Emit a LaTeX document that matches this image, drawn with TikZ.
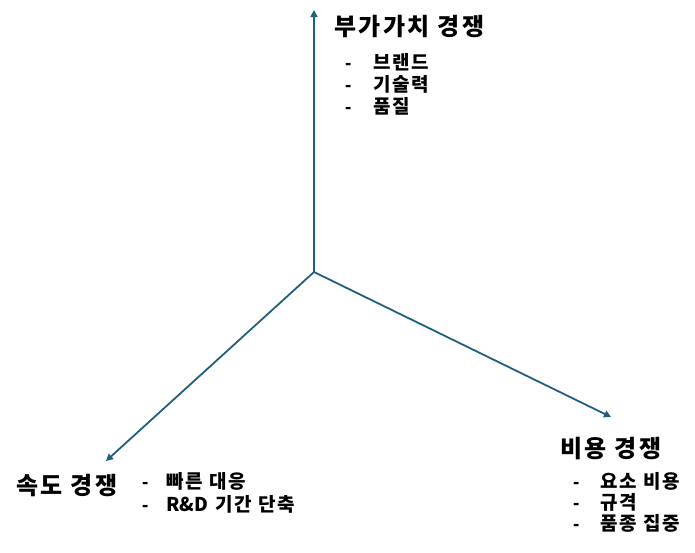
\documentclass[tikz,border=0pt]{standalone}
\usepackage{fontspec}
\setmainfont{Noto Sans CJK KR}
\newfontfamily\ttlfont[LetterSpace=10]{Noto Sans CJK KR}
\newfontfamily\itmfont[LetterSpace=10]{Noto Sans CJK KR}
\newfontfamily\dashfont{Liberation Sans}
\usetikzlibrary{arrows.meta}
\definecolor{axis}{RGB}{31,95,128}
\tikzset{
  ax/.style={draw=axis, line width=1.8pt, -{Triangle[length=7pt,width=7pt]}},
  ttl/.style={anchor=base west, inner sep=0pt, font=\fontsize{24}{26}\selectfont\ttlfont\bfseries},
  itm/.style={anchor=base west, inner sep=0pt, font=\fontsize{19}{21}\selectfont\itmfont\bfseries},
  dsh/.style={anchor=base west, inner sep=0pt, font=\fontsize{19}{21}\selectfont\dashfont\bfseries},
}
\begin{document}
\begin{tikzpicture}[x=1pt,y=-1pt]
\useasboundingbox (0,0) rectangle (695,552);
\coordinate (o) at (314,272);
\coordinate (up) at (314,10);
\coordinate (ld) at (106,461);
\coordinate (rd) at (611,417);
\draw[ax] (o) -- (up);
\draw[ax] (o) -- (ld);
\draw[ax] (o) -- (rd);
% top
\node[ttl] (t1) at (334,35) {부가가치 경쟁};
\node[dsh] (d11) at (345,69) {-};
\node[itm] (i11) at (373,69) {브랜드};
\node[dsh] (d12) at (345,91) {-};
\node[itm] (i12) at (373,91) {기술력};
\node[dsh] (d13) at (345,113) {-};
\node[itm] (i13) at (373,113) {품질};
% left
\node[ttl] (t2) at (16,494) {속도 경쟁};
\node[dsh] (d21) at (142,488) {-};
\node[itm] (i21) at (166,488) {빠른 대응};
\node[dsh] (d22) at (142,511) {-};
\node[itm] (i22) at (166,511) {{\rmfamily\bfseries R\&D\kern1pt} 기간 단축};
% right
\node[ttl] (t3) at (560,457) {비용 경쟁};
\node[dsh] (d31) at (573,488) {-};
\node[itm] (i31) at (600,488) {요소 비용};
\node[dsh] (d32) at (573,509) {-};
\node[itm] (i32) at (600,509) {규격};
\node[dsh] (d33) at (573,530) {-};
\node[itm] (i33) at (600,530) {품종 집중};
\end{tikzpicture}
\end{document}
